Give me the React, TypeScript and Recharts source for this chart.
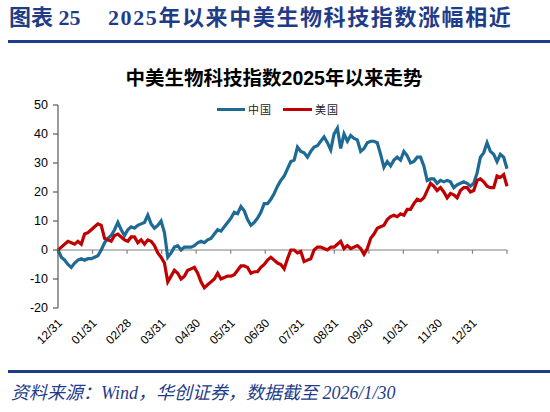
import React from 'react';
import { LineChart, Line, XAxis, YAxis, ReferenceLine } from 'recharts';

// month-end labels under the axis (the last tick, 2026/01/30, has no label)
const monthLabels = ['12/31', '01/31', '02/28', '03/31', '04/30', '05/31', '06/30', '07/31', '08/31', '09/30', '10/31', '11/30', '12/31'];
const yTicks = [-20, -10, 0, 10, 20, 30, 40, 50];

// cumulative change since 2024/12/31, %
const chinaIndex = [
  0, -2.5, -3.5, -5, -6, -4.5, -3.5, -3, -3.5, -3,
  -3, -2.5, -2, 0, 2.5, 4, 5, 7, 9.5, 7,
  5, 7, 8, 7.5, 8.5, 9, 9.5, 12, 9, 7.5,
  8.5, 10, 6, -2.5, -1, 1, 1.5, 0, 1, 1,
  1, 1.5, 2.5, 3, 2.5, 3.5, 4, 5.5, 7, 6.5,
  8, 9.5, 11, 13, 12.5, 15, 13.5, 10.5, 8.5, 9.5,
  11, 13, 16, 16, 17.5, 19.5, 22, 24, 25.5, 28,
  30.5, 31, 35.5, 34, 33.5, 32, 34, 35.5, 36, 37.5,
  39, 37, 34.5, 40, 42, 35, 40, 37.5, 39.5, 38.5,
  38, 34, 35, 37, 37.5, 37.5, 37, 33, 28.5, 30.5,
  29, 31, 32, 31, 34, 32.5, 30, 30.5, 32, 32,
  29, 24, 24.5, 24.5, 23, 24, 23.5, 24, 23.5, 21.5,
  22.5, 23, 23.5, 23, 22, 23, 26.5, 32, 33.5, 37,
  34, 33, 30.5, 33, 32, 28,
];

const usIndex = [
  0, 1, 2, 3, 2.5, 2, 3, 2, 5.5, 6,
  7, 8, 9, 8.5, 4, 3.5, 3, 5, 5.5, 4.5,
  3.5, 3, 4.5, 4.5, 2.5, 3.5, 2, 3.5, 3, 1.5,
  -1, -2.5, -4.5, -11, -9, -7, -8, -10, -9, -7,
  -6.5, -6, -8, -11, -13, -12, -11, -10, -8, -10,
  -9.5, -9, -9, -8.5, -7, -5.5, -5.5, -6, -8, -7.5,
  -7.5, -6, -5, -3.5, -2.5, -3.5, -4.5, -5, -6.5, -3,
  0, 0, -1, -0.5, -4, -3.5, -3, 0, 1, 1,
  0.5, 0, 1, 1, 2, 3, 0.5, 1.5, 0.5, 1,
  1.5, 0.5, -1.5, 0.5, 4, 5.5, 7.5, 8, 8.5, 10.5,
  11.5, 12, 11.5, 12.5, 12, 14, 14, 16, 17.5, 17,
  18, 20.5, 23, 22, 20.5, 21.5, 20, 18, 19.5, 19,
  18, 20.5, 21.5, 21.5, 20, 20.5, 24, 24.5, 23.5, 22,
  21.5, 21.5, 25.5, 25, 26, 22,
];

const MONTHS = 13; // 2024/12/31 .. 2026/01/30 spans 13 tick intervals
const monthTicks = monthLabels.map((_, i) => i);
const tickMarks = [...monthTicks, MONTHS];

const BLUE = '#1d6a94';
const RED = '#c00000';
const NAVY = '#1f3c88';
const AXIS = '#595959';

const MonthTick = (props: any) => {
  const { x, y, payload } = props;
  return (
    <text
      x={x}
      y={y}
      transform={`rotate(-45 ${x} ${y})`}
      textAnchor="end"
      dy={9}
      dx={-2}
      fontSize={12}
      fontFamily="'Liberation Sans', Arial, sans-serif"
      fill="#000"
    >
      {monthLabels[payload.value] ?? ''}
    </text>
  );
};

export default function App() {
  const data = chinaIndex.map((cn, i) => ({
    m: (i * MONTHS) / (chinaIndex.length - 1),
    cn,
    us: usIndex[i],
  }));

  return (
    <div style={{ position: 'absolute', left: 0, top: 0, width: 550, height: 412, background: '#fff', overflow: 'hidden' }}>
      <div style={{ position: 'absolute', left: 0, top: 0 }}>
        <LineChart width={550} height={360} data={data} margin={{ top: 105, right: 43, left: 0, bottom: 12 }}>
          <XAxis
            type="number"
            dataKey="m"
            domain={[0, MONTHS]}
            ticks={monthTicks}
            tick={<MonthTick />}
            tickLine={false}
            axisLine={false}
            tickSize={0}
            tickMargin={8}
            height={40}
            interval={0}
          />
          <YAxis
            domain={[-20, 50]}
            ticks={yTicks}
            width={58}
            tickSize={5}
            tickMargin={5}
            axisLine={{ stroke: AXIS, strokeWidth: 1.2 }}
            tickLine={{ stroke: AXIS, strokeWidth: 1.2 }}
            tick={{ fontSize: 12.5, fill: '#000', fontFamily: "'Liberation Sans', Arial, sans-serif" }}
            interval={0}
          />
          <ReferenceLine y={0} stroke="#808080" strokeWidth={1.2} />
          {tickMarks.map((t) => (
            <ReferenceLine key={t} segment={[{ x: t, y: 0 }, { x: t, y: -1.3 }]} stroke="#808080" strokeWidth={1.2} />
          ))}
          <Line type="linear" dataKey="cn" stroke={BLUE} strokeWidth={3.2} dot={false} isAnimationActive={false} />
          <Line type="linear" dataKey="us" stroke={RED} strokeWidth={3.2} dot={false} isAnimationActive={false} />
        </LineChart>
      </div>

      {/* report header */}
      <div style={{ position: 'absolute', left: 9, top: 6, fontSize: 22, lineHeight: '24px', fontWeight: 'bold', color: NAVY, fontFamily: "'Liberation Serif', 'Noto Sans CJK SC', serif", whiteSpace: 'nowrap' }}>
        图表 25
      </div>
      <div style={{ position: 'absolute', left: 108, top: 6, fontSize: 22, lineHeight: '24px', fontWeight: 'bold', color: NAVY, letterSpacing: 1.6, fontFamily: "'Liberation Serif', 'Noto Sans CJK SC', serif", whiteSpace: 'nowrap' }}>
        2025年以来中美生物科技指数涨幅相近
      </div>
      <div style={{ position: 'absolute', left: 8, top: 40, width: 542, height: 3, background: NAVY }} />

      {/* chart title */}
      <div style={{ position: 'absolute', left: 0, width: 548, top: 67, textAlign: 'center', fontSize: 19.5, lineHeight: '22px', fontWeight: 'bold', color: '#000', fontFamily: "'Liberation Sans', 'Noto Sans CJK SC', sans-serif", whiteSpace: 'nowrap' }}>
        中美生物科技指数2025年以来走势
      </div>

      {/* legend */}
      <div style={{ position: 'absolute', left: 217, top: 108, width: 28, height: 3, background: BLUE }} />
      <div style={{ position: 'absolute', left: 248, top: 102, fontSize: 11, lineHeight: '14px', color: '#222', letterSpacing: 1, fontFamily: "'Noto Sans CJK SC', sans-serif" }}>中国</div>
      <div style={{ position: 'absolute', left: 283, top: 108, width: 29, height: 3, background: RED }} />
      <div style={{ position: 'absolute', left: 315, top: 102, fontSize: 11, lineHeight: '14px', color: '#222', letterSpacing: 1, fontFamily: "'Noto Sans CJK SC', sans-serif" }}>美国</div>

      {/* source note */}
      <div style={{ position: 'absolute', left: 8, top: 370, width: 542, height: 3, background: NAVY }} />
      <div style={{ position: 'absolute', left: 11, top: 382, fontSize: 18, lineHeight: '22px', fontStyle: 'italic', color: NAVY, fontFamily: "'Liberation Serif', 'Noto Sans CJK SC', serif", whiteSpace: 'nowrap' }}>
        资料来源：Wind，华创证券，数据截至 2026/1/30
      </div>
    </div>
  );
}
